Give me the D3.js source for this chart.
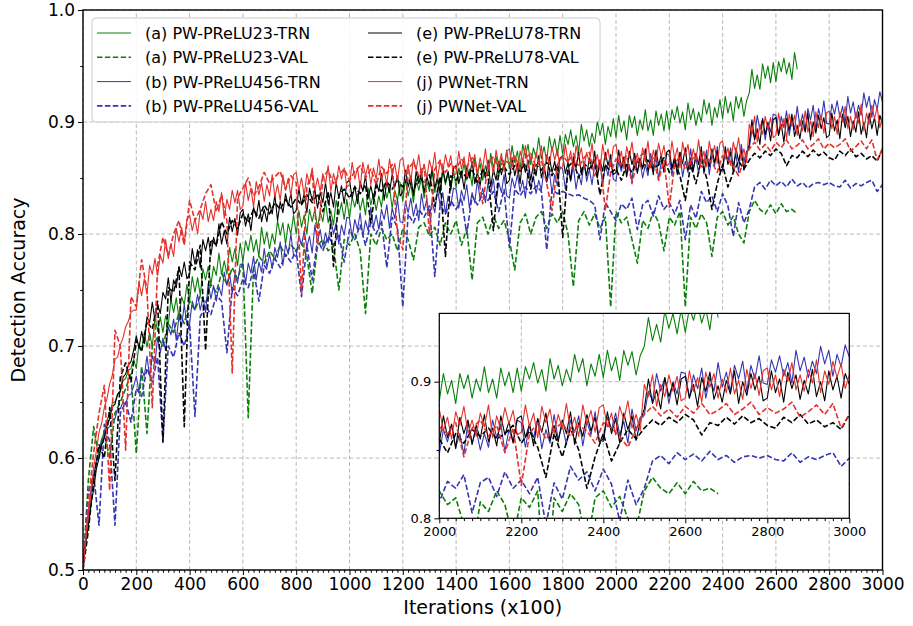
<!DOCTYPE html>
<html><head><meta charset="utf-8">
<script src="https://cdn.jsdelivr.net/npm/d3@7"></script>
<style>
body{margin:0;background:#fff;}
text{font-family:"DejaVu Sans",sans-serif;}
</style></head>
<body><svg id="c" width="913" height="626"></svg>
<script>
// ---------------- data ----------------
const xTicks = [0,200,400,600,800,1000,1200,1400,1600,1800,2000,2200,2400,2600,2800,3000];
const yTicks = [0.5,0.6,0.7,0.8,0.9,1.0];
const insetXTicks = [2000,2200,2400,2600,2800,3000];
const insetYTicks = [0.8,0.9];
const trnStep = 10;   // training curves: one value every 10 (x100 iterations)
const valStep = 20;   // validation curves: one value every 20

const trnA = [
0.500,0.530,0.549,0.569,0.582,0.597,0.605,0.617,0.623,0.634,0.639,0.649,0.650,0.657,0.659,0.669,0.671,0.678,0.680,0.688,
0.680,0.702,0.696,0.712,0.699,0.712,0.699,0.726,0.713,0.726,0.712,0.727,0.719,0.742,0.730,0.743,0.725,0.744,0.737,0.755,
0.740,0.762,0.748,0.761,0.745,0.769,0.759,0.771,0.755,0.771,0.763,0.783,0.764,0.776,0.764,0.788,0.775,0.787,0.772,0.792,
0.775,0.794,0.785,0.799,0.784,0.795,0.780,0.806,0.791,0.802,0.787,0.800,0.791,0.812,0.799,0.810,0.791,0.809,0.800,0.817,
0.800,0.821,0.806,0.817,0.800,0.822,0.811,0.822,0.805,0.820,0.811,0.829,0.810,0.821,0.808,0.830,0.817,0.828,0.813,0.831,
0.814,0.833,0.824,0.836,0.821,0.832,0.817,0.841,0.826,0.836,0.821,0.834,0.824,0.845,0.832,0.842,0.823,0.839,0.830,0.846,
0.829,0.849,0.834,0.845,0.828,0.850,0.839,0.850,0.832,0.847,0.838,0.856,0.837,0.848,0.835,0.857,0.844,0.854,0.839,0.858,
0.841,0.859,0.850,0.863,0.848,0.858,0.843,0.868,0.853,0.863,0.848,0.861,0.852,0.872,0.859,0.870,0.851,0.868,0.859,0.875,
0.858,0.879,0.864,0.874,0.857,0.880,0.869,0.880,0.862,0.877,0.868,0.886,0.867,0.878,0.865,0.887,0.874,0.885,0.870,0.888,
0.871,0.889,0.880,0.893,0.878,0.888,0.873,0.898,0.883,0.893,0.878,0.890,0.881,0.901,0.888,0.899,0.880,0.896,0.887,0.903,
0.886,0.906,0.891,0.901,0.884,0.906,0.895,0.905,0.888,0.902,0.893,0.911,0.892,0.902,0.888,0.910,0.897,0.907,0.892,0.910,
0.893,0.911,0.902,0.914,0.899,0.909,0.893,0.917,0.902,0.912,0.897,0.909,0.900,0.920,0.907,0.917,0.897,0.913,0.904,0.920,
0.903,0.923,0.908,0.918,0.901,0.923,0.912,0.922,0.905,0.919,0.926,0.947,0.930,0.942,0.929,0.952,0.939,0.950,0.935,0.953,
0.936,0.954,0.945,0.957,0.943,0.953,0.938,0.962,0.947];
const valA = [
0.500,0.580,0.628,0.600,0.622,0.600,0.640,0.650,0.662,0.675,
0.604,0.682,0.622,0.700,0.708,0.700,0.720,0.712,0.730,0.720,
0.740,0.732,0.745,0.738,0.755,0.748,0.765,0.755,0.770,0.760,
0.775,0.636,0.770,0.780,0.774,0.785,0.778,0.790,0.780,0.790,
0.785,0.792,0.780,0.747,0.790,0.795,0.785,0.790,0.750,0.795,
0.790,0.800,0.785,0.729,0.800,0.790,0.805,0.795,0.800,0.785,
0.805,0.795,0.777,0.806,0.810,0.798,0.806,0.790,0.810,0.800,
0.812,0.790,0.805,0.759,0.810,0.815,0.800,0.816,0.805,0.812,
0.795,0.768,0.810,0.818,0.800,0.815,0.820,0.805,0.818,0.810,
0.820,0.800,0.753,0.812,0.820,0.808,0.818,0.805,0.815,0.735,
0.820,0.810,0.815,0.795,0.774,0.812,0.805,0.820,0.810,0.785,
0.815,0.808,0.820,0.735,0.815,0.805,0.818,0.810,0.780,0.815,
0.820,0.808,0.816,0.800,0.792,0.820,0.830,0.822,0.818,0.826,
0.818,0.827,0.820,0.822,0.818];
const trnB = [
0.500,0.529,0.550,0.571,0.584,0.597,0.602,0.616,0.619,0.626,0.628,0.634,0.635,0.644,0.644,0.650,0.648,0.656,0.657,0.664,
0.673,0.659,0.679,0.673,0.691,0.673,0.691,0.684,0.708,0.694,0.707,0.696,0.717,0.710,0.724,0.705,0.726,0.718,0.737,0.719,
0.720,0.740,0.732,0.746,0.732,0.744,0.730,0.756,0.742,0.754,0.740,0.753,0.745,0.766,0.754,0.765,0.747,0.764,0.756,0.773,
0.773,0.756,0.774,0.765,0.780,0.759,0.775,0.766,0.787,0.770,0.782,0.769,0.788,0.779,0.793,0.772,0.791,0.782,0.800,0.781,
0.780,0.799,0.790,0.803,0.788,0.798,0.783,0.808,0.793,0.804,0.789,0.801,0.792,0.813,0.800,0.810,0.791,0.808,0.799,0.815,
0.814,0.797,0.813,0.804,0.819,0.798,0.812,0.803,0.824,0.806,0.817,0.804,0.822,0.813,0.826,0.805,0.823,0.814,0.831,0.811,
0.810,0.829,0.819,0.832,0.816,0.827,0.812,0.836,0.821,0.831,0.816,0.829,0.819,0.840,0.826,0.837,0.818,0.834,0.825,0.841,
0.840,0.823,0.839,0.830,0.844,0.823,0.837,0.828,0.848,0.831,0.841,0.828,0.846,0.837,0.849,0.828,0.846,0.837,0.853,0.834,
0.832,0.850,0.841,0.853,0.838,0.848,0.832,0.857,0.841,0.852,0.836,0.848,0.839,0.859,0.846,0.856,0.836,0.853,0.843,0.860,
0.858,0.840,0.857,0.847,0.861,0.840,0.854,0.844,0.865,0.847,0.858,0.844,0.862,0.853,0.865,0.843,0.862,0.852,0.868,0.849,
0.847,0.865,0.856,0.868,0.852,0.862,0.847,0.871,0.855,0.865,0.850,0.862,0.852,0.872,0.859,0.869,0.849,0.865,0.856,0.872,
0.870,0.852,0.868,0.859,0.873,0.851,0.865,0.855,0.876,0.858,0.868,0.854,0.872,0.863,0.875,0.853,0.871,0.861,0.878,0.858,
0.856,0.874,0.865,0.877,0.861,0.871,0.855,0.880,0.864,0.874,0.876,0.893,0.886,0.906,0.893,0.903,0.884,0.900,0.891,0.907,
0.906,0.888,0.905,0.895,0.910,0.888,0.903,0.893,0.914,0.896,0.907,0.893,0.912,0.902,0.915,0.893,0.912,0.902,0.919,0.899,
0.898,0.916,0.907,0.919,0.904,0.914,0.899,0.923,0.908,0.918,0.903,0.915,0.906,0.926,0.913,0.923,0.904,0.920,0.911,0.927,
0.918];
const valB = [
0.500,0.570,0.585,0.540,0.630,0.615,0.540,0.640,0.650,0.632,
0.662,0.655,0.680,0.668,0.690,0.616,0.700,0.690,0.712,0.700,
0.720,0.637,0.726,0.736,0.728,0.745,0.740,0.694,0.752,0.745,
0.760,0.752,0.768,0.740,0.772,0.765,0.778,0.770,0.782,0.775,
0.786,0.744,0.790,0.759,0.795,0.785,0.798,0.790,0.800,0.775,
0.804,0.795,0.808,0.790,0.810,0.800,0.812,0.770,0.815,0.806,
0.735,0.818,0.810,0.822,0.815,0.825,0.762,0.826,0.818,0.830,
0.822,0.832,0.800,0.834,0.826,0.836,0.830,0.838,0.820,0.840,
0.788,0.840,0.834,0.842,0.836,0.843,0.838,0.786,0.840,0.836,
0.838,0.836,0.834,0.835,0.832,0.830,0.826,0.795,0.828,0.820,
0.812,0.827,0.822,0.832,0.804,0.826,0.830,0.816,0.834,0.822,
0.828,0.818,0.830,0.795,0.826,0.814,0.838,0.828,0.834,0.820,
0.836,0.825,0.798,0.828,0.810,0.822,0.842,0.846,0.840,0.848,
0.843,0.847,0.842,0.849,0.843,0.846,0.841,0.845,0.846,0.844,
0.846,0.843,0.842,0.848,0.841,0.845,0.843,0.846,0.848,0.838,
0.844];
const trnE = [
0.500,0.524,0.539,0.559,0.572,0.590,0.600,0.612,0.618,0.629,0.635,0.646,0.648,0.657,0.660,0.672,0.675,0.683,0.686,0.696,
0.709,0.698,0.713,0.702,0.726,0.721,0.739,0.723,0.737,0.729,0.748,0.742,0.761,0.740,0.759,0.752,0.771,0.762,0.775,0.760,
0.764,0.787,0.773,0.786,0.770,0.795,0.785,0.797,0.781,0.797,0.789,0.809,0.791,0.803,0.791,0.815,0.802,0.814,0.799,0.819,
0.822,0.807,0.818,0.803,0.824,0.815,0.830,0.811,0.822,0.811,0.828,0.818,0.835,0.812,0.829,0.819,0.836,0.825,0.836,0.818,
0.821,0.841,0.826,0.836,0.819,0.841,0.830,0.840,0.823,0.837,0.828,0.846,0.827,0.837,0.824,0.846,0.832,0.843,0.827,0.846,
0.848,0.832,0.843,0.827,0.847,0.838,0.852,0.832,0.843,0.831,0.847,0.838,0.854,0.830,0.847,0.837,0.853,0.842,0.852,0.834,
0.837,0.857,0.842,0.852,0.834,0.856,0.845,0.855,0.837,0.852,0.842,0.860,0.841,0.851,0.837,0.859,0.846,0.856,0.840,0.859,
0.861,0.845,0.856,0.840,0.860,0.850,0.865,0.845,0.855,0.843,0.859,0.850,0.866,0.842,0.858,0.848,0.865,0.853,0.863,0.845,
0.848,0.868,0.852,0.863,0.845,0.867,0.855,0.866,0.848,0.862,0.852,0.870,0.850,0.861,0.847,0.869,0.855,0.865,0.850,0.868,
0.870,0.854,0.864,0.848,0.869,0.859,0.873,0.853,0.863,0.852,0.868,0.858,0.874,0.850,0.866,0.856,0.873,0.861,0.871,0.853,
0.855,0.875,0.859,0.869,0.851,0.874,0.862,0.872,0.854,0.868,0.858,0.876,0.856,0.866,0.853,0.875,0.861,0.871,0.855,0.873,
0.875,0.859,0.869,0.853,0.873,0.863,0.877,0.857,0.868,0.856,0.872,0.862,0.878,0.854,0.870,0.860,0.876,0.864,0.874,0.856,
0.858,0.878,0.862,0.873,0.855,0.877,0.865,0.875,0.857,0.871,0.880,0.902,0.884,0.894,0.880,0.903,0.889,0.899,0.883,0.902,
0.904,0.888,0.898,0.882,0.903,0.893,0.907,0.887,0.897,0.885,0.901,0.891,0.908,0.884,0.900,0.890,0.906,0.894,0.904,0.886,
0.888,0.908,0.892,0.902,0.885,0.907,0.895,0.905,0.887,0.901,0.891,0.909,0.889,0.900,0.886,0.908,0.894,0.904,0.888,0.906,
0.898];
const valE = [
0.500,0.535,0.580,0.612,0.600,0.645,0.580,0.672,0.685,0.668,
0.705,0.695,0.722,0.715,0.740,0.614,0.752,0.748,0.770,0.628,
0.775,0.768,0.790,0.696,0.795,0.790,0.811,0.800,0.812,0.805,
0.818,0.810,0.822,0.814,0.826,0.818,0.828,0.822,0.831,0.824,
0.832,0.826,0.835,0.828,0.836,0.820,0.838,0.771,0.835,0.840,
0.832,0.842,0.836,0.844,0.810,0.843,0.838,0.847,0.840,0.848,
0.842,0.850,0.838,0.852,0.845,0.853,0.825,0.851,0.780,0.852,
0.848,0.856,0.850,0.858,0.845,0.857,0.852,0.803,0.856,0.860,
0.853,0.861,0.856,0.863,0.840,0.862,0.857,0.864,0.852,0.862,
0.797,0.860,0.865,0.850,0.863,0.858,0.866,0.835,0.862,0.855,
0.858,0.848,0.862,0.855,0.865,0.860,0.866,0.858,0.862,0.868,
0.855,0.864,0.852,0.830,0.862,0.845,0.866,0.850,0.822,0.845,
0.862,0.842,0.855,0.865,0.858,0.866,0.872,0.868,0.874,0.870,
0.876,0.872,0.861,0.870,0.868,0.874,0.869,0.875,0.870,0.873,
0.868,0.866,0.874,0.870,0.876,0.869,0.872,0.867,0.870,0.865,
0.876];
const trnJ = [
0.500,0.526,0.551,0.568,0.592,0.606,0.623,0.631,0.645,0.653,0.666,0.674,0.688,0.690,0.701,0.707,0.717,0.722,0.730,0.732,
0.732,0.757,0.745,0.760,0.746,0.772,0.764,0.778,0.763,0.781,0.774,0.795,0.778,0.791,0.780,0.805,0.793,0.806,0.792,0.813,
0.817,0.803,0.814,0.800,0.821,0.813,0.829,0.811,0.822,0.812,0.829,0.820,0.837,0.814,0.831,0.822,0.839,0.828,0.839,0.822,
0.825,0.846,0.830,0.841,0.824,0.847,0.835,0.846,0.829,0.844,0.834,0.853,0.833,0.844,0.830,0.853,0.839,0.850,0.834,0.853,
0.855,0.839,0.850,0.834,0.854,0.845,0.859,0.839,0.850,0.838,0.854,0.845,0.861,0.838,0.854,0.844,0.861,0.849,0.859,0.842,
0.844,0.864,0.849,0.859,0.841,0.864,0.852,0.862,0.844,0.859,0.849,0.867,0.848,0.858,0.844,0.867,0.853,0.863,0.847,0.866,
0.868,0.852,0.862,0.847,0.867,0.857,0.871,0.851,0.862,0.850,0.866,0.856,0.873,0.849,0.865,0.855,0.871,0.860,0.870,0.852,
0.854,0.874,0.858,0.869,0.851,0.873,0.861,0.871,0.854,0.868,0.858,0.876,0.857,0.867,0.853,0.875,0.861,0.872,0.856,0.874,
0.876,0.860,0.870,0.854,0.874,0.865,0.879,0.859,0.869,0.857,0.873,0.863,0.879,0.855,0.871,0.862,0.878,0.866,0.876,0.858,
0.860,0.880,0.864,0.874,0.856,0.879,0.867,0.877,0.859,0.873,0.863,0.881,0.861,0.871,0.857,0.880,0.866,0.876,0.860,0.878,
0.880,0.864,0.874,0.858,0.878,0.868,0.882,0.862,0.872,0.860,0.877,0.867,0.883,0.859,0.875,0.865,0.881,0.869,0.879,0.861,
0.863,0.883,0.867,0.877,0.859,0.882,0.870,0.880,0.862,0.876,0.866,0.884,0.864,0.874,0.860,0.883,0.869,0.879,0.863,0.881,
0.883,0.867,0.877,0.861,0.882,0.872,0.886,0.866,0.876,0.864,0.898,0.889,0.905,0.882,0.898,0.889,0.905,0.893,0.904,0.886,
0.888,0.908,0.893,0.903,0.885,0.907,0.896,0.906,0.888,0.902,0.892,0.910,0.891,0.901,0.887,0.909,0.895,0.906,0.890,0.908,
0.910,0.894,0.905,0.889,0.909,0.900,0.914,0.894,0.905,0.893,0.909,0.899,0.916,0.892,0.908,0.898,0.915,0.903,0.913,0.895,
0.905];
const valJ = [
0.500,0.560,0.605,0.640,0.665,0.571,0.714,0.700,0.607,0.744,
0.735,0.777,0.750,0.645,0.772,0.797,0.781,0.800,0.812,0.790,
0.830,0.812,0.822,0.836,0.844,0.820,0.835,0.812,0.676,0.832,
0.841,0.850,0.834,0.842,0.855,0.845,0.851,0.856,0.840,0.852,
0.846,0.747,0.842,0.855,0.790,0.850,0.857,0.845,0.853,0.858,
0.848,0.856,0.861,0.850,0.858,0.844,0.860,0.854,0.862,0.800,
0.786,0.858,0.864,0.852,0.862,0.800,0.858,0.866,0.855,0.863,
0.858,0.867,0.860,0.868,0.855,0.827,0.862,0.869,0.858,0.866,
0.863,0.870,0.858,0.868,0.872,0.860,0.866,0.845,0.821,0.862,
0.870,0.864,0.872,0.860,0.868,0.873,0.852,0.866,0.821,0.855,
0.867,0.862,0.870,0.845,0.866,0.872,0.860,0.868,0.848,0.866,
0.824,0.862,0.870,0.858,0.865,0.870,0.860,0.868,0.864,0.855,
0.870,0.866,0.860,0.852,0.866,0.876,0.882,0.875,0.880,0.874,
0.882,0.877,0.884,0.876,0.879,0.884,0.876,0.880,0.885,0.876,
0.881,0.877,0.880,0.885,0.874,0.878,0.883,0.876,0.884,0.866,
0.876];

const seriesNames = ["(a) PW-PReLU23-TRN","(a) PW-PReLU23-VAL","(b) PW-PReLU456-TRN","(b) PW-PReLU456-VAL",
                     "(e) PW-PReLU78-TRN","(e) PW-PReLU78-VAL","(j) PWNet-TRN","(j) PWNet-VAL"];
const seriesValues = [trnA, valA, trnB, valB, trnE, valE, trnJ, valJ];
const seriesColors = ["#0a800a","#0a800a","#3535b0","#3535b0","#000000","#000000","#e5312c","#e5312c"];
const seriesDashed = [false,true,false,true,false,true,false,true];

// ---------------- drawing ----------------
const svg = d3.select("#c");
const FONT = "DejaVu Sans";
const M = {l:83, r:882.5, t:10, b:570};
const x = d3.scaleLinear().domain([0,3000]).range([M.l, M.r]);
const y = d3.scaleLinear().domain([0.5,1.0]).range([M.b, M.t]);
const I = {l:439.3, r:849.3, t:313.4, b:518.3};
const ix = d3.scaleLinear().domain([2000,3000]).range([I.l, I.r]);
const iy = d3.scaleLinear().domain([0.8,0.95]).range([I.b, I.t]);

const defs = svg.append("defs");
defs.append("clipPath").attr("id","mclip").append("rect")
  .attr("x",M.l).attr("y",M.t).attr("width",M.r-M.l).attr("height",M.b-M.t);
defs.append("clipPath").attr("id","iclip").append("rect")
  .attr("x",I.l).attr("y",I.t).attr("width",I.r-I.l).attr("height",I.b-I.t);

const series = seriesValues.map((vals,i)=>{
  const step = seriesDashed[i] ? valStep : trnStep;
  return {name: seriesNames[i], color: seriesColors[i], dashed: seriesDashed[i],
          pts: vals.map((v,k)=>[k*step, v])};
});

function drawPanel(g, sx, sy, xt, yt, xMinor, yMinor, clipId, fs, tickLen, frameW){
  g.append("g").selectAll("line").data(xt).join("line")
    .attr("x1",d=>sx(d)).attr("x2",d=>sx(d)).attr("y1",sy.range()[0]).attr("y2",sy.range()[1])
    .attr("stroke","#b9b9b9").attr("stroke-width",1).attr("stroke-dasharray","4,2.5");
  g.append("g").selectAll("line").data(yt).join("line")
    .attr("y1",d=>sy(d)).attr("y2",d=>sy(d)).attr("x1",sx.range()[0]).attr("x2",sx.range()[1])
    .attr("stroke","#b9b9b9").attr("stroke-width",1).attr("stroke-dasharray","4,2.5");
  const lg = g.append("g").attr("clip-path",`url(#${clipId})`);
  const line = d3.line().x(d=>sx(d[0])).y(d=>sy(d[1]));
  series.forEach(s=>{
    lg.append("path").attr("d",line(s.pts)).attr("fill","none")
      .attr("stroke",s.color)
      .attr("stroke-width", s.dashed?1.6:1.1)
      .attr("stroke-dasharray", s.dashed?"5.5,2.4":null)
      .attr("stroke-linejoin","round");
  });
  const xb = sy.range()[0], yl = sx.range()[0];
  const ax = g.append("g").attr("transform",`translate(0,${xb})`)
    .call(d3.axisBottom(sx).tickValues(xt).tickSize(tickLen).tickPadding(3).tickFormat(d3.format("d")));
  const axm = g.append("g").attr("transform",`translate(0,${xb})`)
    .call(d3.axisBottom(sx).tickValues(xMinor).tickSize(tickLen*0.55).tickFormat(""));
  const ay = g.append("g").attr("transform",`translate(${yl},0)`)
    .call(d3.axisLeft(sy).tickValues(yt).tickSize(tickLen).tickPadding(3).tickFormat(d3.format(".1f")));
  const aym = g.append("g").attr("transform",`translate(${yl},0)`)
    .call(d3.axisLeft(sy).tickValues(yMinor).tickSize(tickLen*0.55).tickFormat(""));
  [ax,axm,ay,aym].forEach(a=>{
    a.select(".domain").remove();
    a.selectAll("line").attr("stroke","#000").attr("stroke-width",1);
    a.selectAll("text").attr("font-family",FONT).attr("font-size",fs).attr("fill","#000");
  });
  g.append("rect").attr("x",sx.range()[0]).attr("y",sy.range()[1])
    .attr("width",sx.range()[1]-sx.range()[0]).attr("height",sy.range()[0]-sy.range()[1])
    .attr("fill","none").attr("stroke","#000").attr("stroke-width",frameW);
}

const main = svg.append("g");
drawPanel(main, x, y, xTicks, yTicks,
  d3.range(0,3001,20).filter(v=>v%200!==0),
  [0.55,0.65,0.75,0.85,0.95], "mclip", 17, 5, 1.4);

svg.append("text").attr("x",(M.l+M.r)/2).attr("y",614).attr("text-anchor","middle")
  .attr("font-family",FONT).attr("font-size",19).text("Iterations (x100)");
svg.append("text").attr("transform",`translate(25,${(M.t+M.b)/2}) rotate(-90)`)
  .attr("text-anchor","middle").attr("font-family",FONT).attr("font-size",19).text("Detection Accuracy");

const leg = svg.append("g");
leg.append("rect").attr("x",92).attr("y",18).attr("width",508).attr("height",104).attr("rx",4)
  .attr("fill","#fff").attr("fill-opacity",0.85).attr("stroke","#cccccc").attr("stroke-width",1);
series.forEach((s,i)=>{
  const col = Math.floor(i/4), row = i%4;
  const cy = 33 + row*24.3;
  const x0 = col===0 ? 97 : 368;
  leg.append("line").attr("x1",x0).attr("x2",x0+34).attr("y1",cy).attr("y2",cy)
    .attr("stroke",s.color).attr("stroke-width",s.dashed?1.6:1.0)
    .attr("stroke-dasharray",s.dashed?"5.5,2.4":null);
  leg.append("text").attr("x",col===0?145:416).attr("y",cy+6)
    .attr("font-family",FONT).attr("font-size",16).text(s.name);
});

const inset = svg.append("g");
inset.append("rect").attr("x",I.l).attr("y",I.t).attr("width",I.r-I.l).attr("height",I.b-I.t).attr("fill","#fff");
drawPanel(inset, ix, iy, insetXTicks, insetYTicks,
  d3.range(2000,3001,20).filter(v=>v%200!==0), [0.85], "iclip", 13, 5, 1.2);
</script></body></html>
